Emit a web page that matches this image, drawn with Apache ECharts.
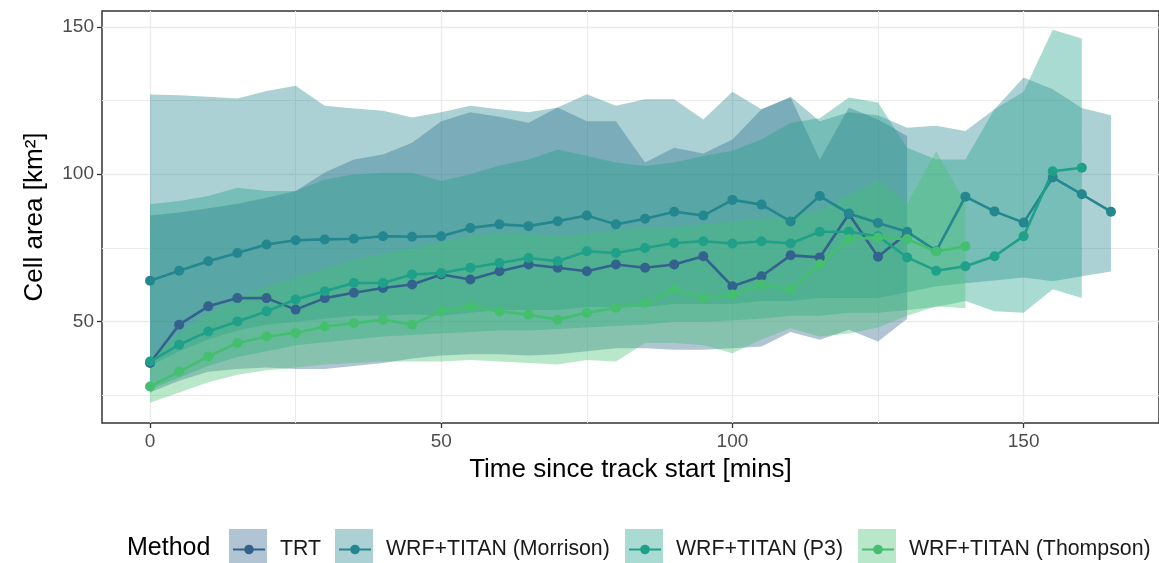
<!DOCTYPE html>
<html>
<head>
<meta charset="utf-8">
<script src="https://cdn.jsdelivr.net/npm/echarts@6/dist/echarts.min.js"></script>
<style>
html,body{margin:0;padding:0;background:#fff;}
#chart{width:1159px;height:563px;}
</style>
</head>
<body>
<div id="chart"></div>
<script>
// ---- data ----
const times = [0,5,10,15,20,25,30,35,40,45,50,55,60,65,70,75,80,85,90,95,100,105,110,115,120,125,130,135,140,145,150,155,160,165];

const methods = ['TRT','WRF+TITAN (Morrison)','WRF+TITAN (P3)','WRF+TITAN (Thompson)'];

const trtMean = [36,49,55.2,58,58,54.1,58,59.8,61.4,62.6,66,64.3,67.1,69.4,68.3,67.1,69.4,68.3,69.4,72.2,62,65.4,72.5,71.8,86.5,72,80];
const trtLow  = [26,30,33,34,34.5,34,34,35,36,37.5,38.5,39,39,38.5,39,40,41,41,40.5,40.5,41,41.6,46.5,43.9,47.3,43.3,51];
const trtHigh = [86,87,88.5,90,92,94.3,100.6,105,106.7,110.7,118,121,119.5,117.5,122.6,118,118,104,109,107,111.8,122,126,105,122.6,118.6,113];

const morrisonMean = [63.9,67.3,70.5,73.3,76.2,77.6,77.9,78.1,79,78.8,79,81.8,83,82.4,84.1,86,83,84.9,87.3,86,91.3,89.7,84,92.6,86.7,83.5,80.5,74,92.4,87.4,83.6,98.9,93.2,87.3];
const morrisonLow  = [35,40,44,47,49,50,51,52,52,52.5,52,53,54,54,54,55,55,55,56,56,56,57,57,58,58,58,60,62,63,64,65,63.7,65.4,67];
const morrisonHigh = [127,126.8,126.3,125.7,128.2,130,123.2,122.3,121.5,119.2,121,123.2,122,121,122.6,127.1,123.2,125.4,125.4,118.6,128,122,126.3,118,121,120,115.8,116.4,114.7,122,132.8,128.8,122.5,120];

const p3Mean = [36.5,42.2,46.7,50.1,53.5,57.5,60.3,63.1,63.1,66,66.5,68.3,69.9,71.6,70.5,73.9,73.3,75,76.7,77.3,76.5,77.3,76.5,80.5,80.5,79,71.8,67.3,68.8,72.2,79,101,102.2];
const p3Low  = [27,31,35,38,40,42,43,44,45,45.5,46,46.5,47,47,47.5,48,48.5,49,50,50,50.5,51,52,52,53,53,54,55,57,53.5,53,61,58];
const p3High = [89.8,90.9,92.6,95.4,94.3,94.3,98.2,99.9,100.5,100.5,97.7,100,103,105,108.4,106.2,104,102.8,104,106.2,108,111.8,117.5,119,126,124.3,109,105,105,122,128,149,146];

const thompsonMean = [28,33.1,38.2,42.8,45,46.2,48.4,49.5,50.7,49,53.5,55.2,53.5,52.4,50.7,53,54.7,56.4,60.9,58,59.2,62.6,61,69.5,78,78.5,78,73.8,75.6];
const thompsonLow  = [22.5,26,29.5,32,33.5,34.5,35.5,36,36.5,36.5,36.5,37,36.5,36,35.5,37,36.5,42.8,42.8,42,39.3,44,47.8,45,46,48,52,55.2,54.6];
const thompsonHigh = [38,46,53,58,62,65,68,71,73,75,77,79,80,80,79,80,81,82,82,83,84,85,86,88,93,98,90,107.8,90];

const xTicks = [0,50,100,150];
const xMinorTicks = [25,75,125];
const yTicks = [50,100,150];
const yMinorTicks = [25,75,125];

// ---- styles ----
const lineColors = ['#33638D','#24868E','#1FA088','#44BF70'];
const bandAlpha = 0.38;
const FONT = '"Liberation Sans", Arial, Helvetica, sans-serif';

const groups = [
  {name: methods[0], mean: trtMean, low: trtLow, high: trtHigh},
  {name: methods[1], mean: morrisonMean, low: morrisonLow, high: morrisonHigh},
  {name: methods[2], mean: p3Mean, low: p3Low, high: p3High},
  {name: methods[3], mean: thompsonMean, low: thompsonLow, high: thompsonHigh}
];

function hexA(hex, a){
  const r = parseInt(hex.slice(1,3),16), g = parseInt(hex.slice(3,5),16), b = parseInt(hex.slice(5,7),16);
  return 'rgba(' + r + ',' + g + ',' + b + ',' + a + ')';
}

const series = [];
groups.forEach((g, i) => {
  const xs = times.slice(0, g.mean.length);
  const fill = hexA(lineColors[i], bandAlpha);
  series.push({
    type: 'custom', name: 'band_' + i, silent: true, z: 1, animation: false,
    data: xs.map((x, k) => [x, g.low[k], g.high[k]]),
    encode: {x: 0, y: [1, 2]},
    renderItem: function (params, api) {
      if (params.dataIndex !== 0) return null;
      const pts = [];
      for (let k = 0; k < xs.length; k++) pts.push(api.coord([xs[k], g.high[k]]));
      for (let k = xs.length - 1; k >= 0; k--) pts.push(api.coord([xs[k], g.low[k]]));
      return {type: 'polygon', shape: {points: pts}, style: {fill: fill, stroke: null}};
    }
  });
});
groups.forEach((g, i) => {
  const xs = times.slice(0, g.mean.length);
  series.push({
    type: 'line', name: g.name,
    data: xs.map((x, k) => [x, g.mean[k]]),
    symbol: 'circle', symbolSize: 10, showSymbol: true,
    lineStyle: {width: 2.6, color: lineColors[i]},
    itemStyle: {color: lineColors[i]},
    z: 3, animation: false
  });
});

const keyX = [229, 335, 625, 858];
const legends = methods.map((m, i) => ({
  data: [m], left: keyX[i] + 3, top: 539, orient: 'horizontal',
  itemWidth: 32, itemHeight: 12, padding: 0, selectedMode: false,
  textStyle: {fontSize: 21.3, color: '#1a1a1a', fontFamily: FONT, padding: [0,0,0,10]}
}));

const graphics = methods.map((m, i) => ({
  type: 'rect', left: keyX[i], top: 529, z: 0,
  shape: {width: 38, height: 38},
  style: {fill: hexA(lineColors[i], bandAlpha)}
}));

const gridLine = {show: true, lineStyle: {color: '#EBEBEB', width: 1.3}};
const gridLineMinor = {show: true, lineStyle: {color: '#EBEBEB', width: 1}};

const option = {
  backgroundColor: '#ffffff',
  animation: false,
  textStyle: {fontFamily: FONT},
  title: {text: 'Method', left: 127, top: 536, padding: 0,
    textStyle: {fontSize: 25, fontWeight: 'normal', color: '#000', fontFamily: FONT}},
  legend: legends,
  graphic: graphics,
  grid: {left: 102, top: 11, width: 1072, height: 412, show: true,
    borderColor: '#333333', borderWidth: 1.5, backgroundColor: 'transparent', containLabel: false},
  xAxis: [
    {type: 'value', min: -8.25, max: 173.25, position: 'bottom',
     name: 'Time since track start [mins]', nameLocation: 'middle', nameGap: 34,
     nameTextStyle: {fontSize: 26, color: '#000', fontFamily: FONT},
     axisLine: {show: false, onZero: false},
     axisTick: {show: true, length: 5, lineStyle: {color: '#333', width: 1.3}, customValues: xTicks},
     axisLabel: {show: true, fontSize: 19, color: '#4D4D4D', margin: 9, customValues: xTicks, fontFamily: FONT},
     splitLine: gridLine},
    {type: 'value', min: -8.25, max: 173.25, position: 'bottom',
     axisLine: {show: false, onZero: false},
     axisTick: {show: false, customValues: xMinorTicks},
     axisLabel: {show: false, customValues: xMinorTicks},
     splitLine: gridLineMinor}
  ],
  yAxis: [
    {type: 'value', min: 15.65, max: 155.35, position: 'left',
     name: 'Cell area [km²]', nameLocation: 'middle', nameGap: 54,
     nameTextStyle: {fontSize: 26, color: '#000', fontFamily: FONT},
     axisLine: {show: false, onZero: false},
     axisTick: {show: true, length: 5, lineStyle: {color: '#333', width: 1.3}, customValues: yTicks},
     axisLabel: {show: true, fontSize: 19, color: '#4D4D4D', margin: 8, customValues: yTicks, fontFamily: FONT},
     splitLine: gridLine},
    {type: 'value', min: 15.65, max: 155.35, position: 'left',
     axisLine: {show: false, onZero: false},
     axisTick: {show: false, customValues: yMinorTicks},
     axisLabel: {show: false, customValues: yMinorTicks},
     splitLine: gridLineMinor}
  ],
  series: series
};

const chart = echarts.init(document.getElementById('chart'), null, {renderer: 'canvas'});
chart.setOption(option);
</script>
</body>
</html>
